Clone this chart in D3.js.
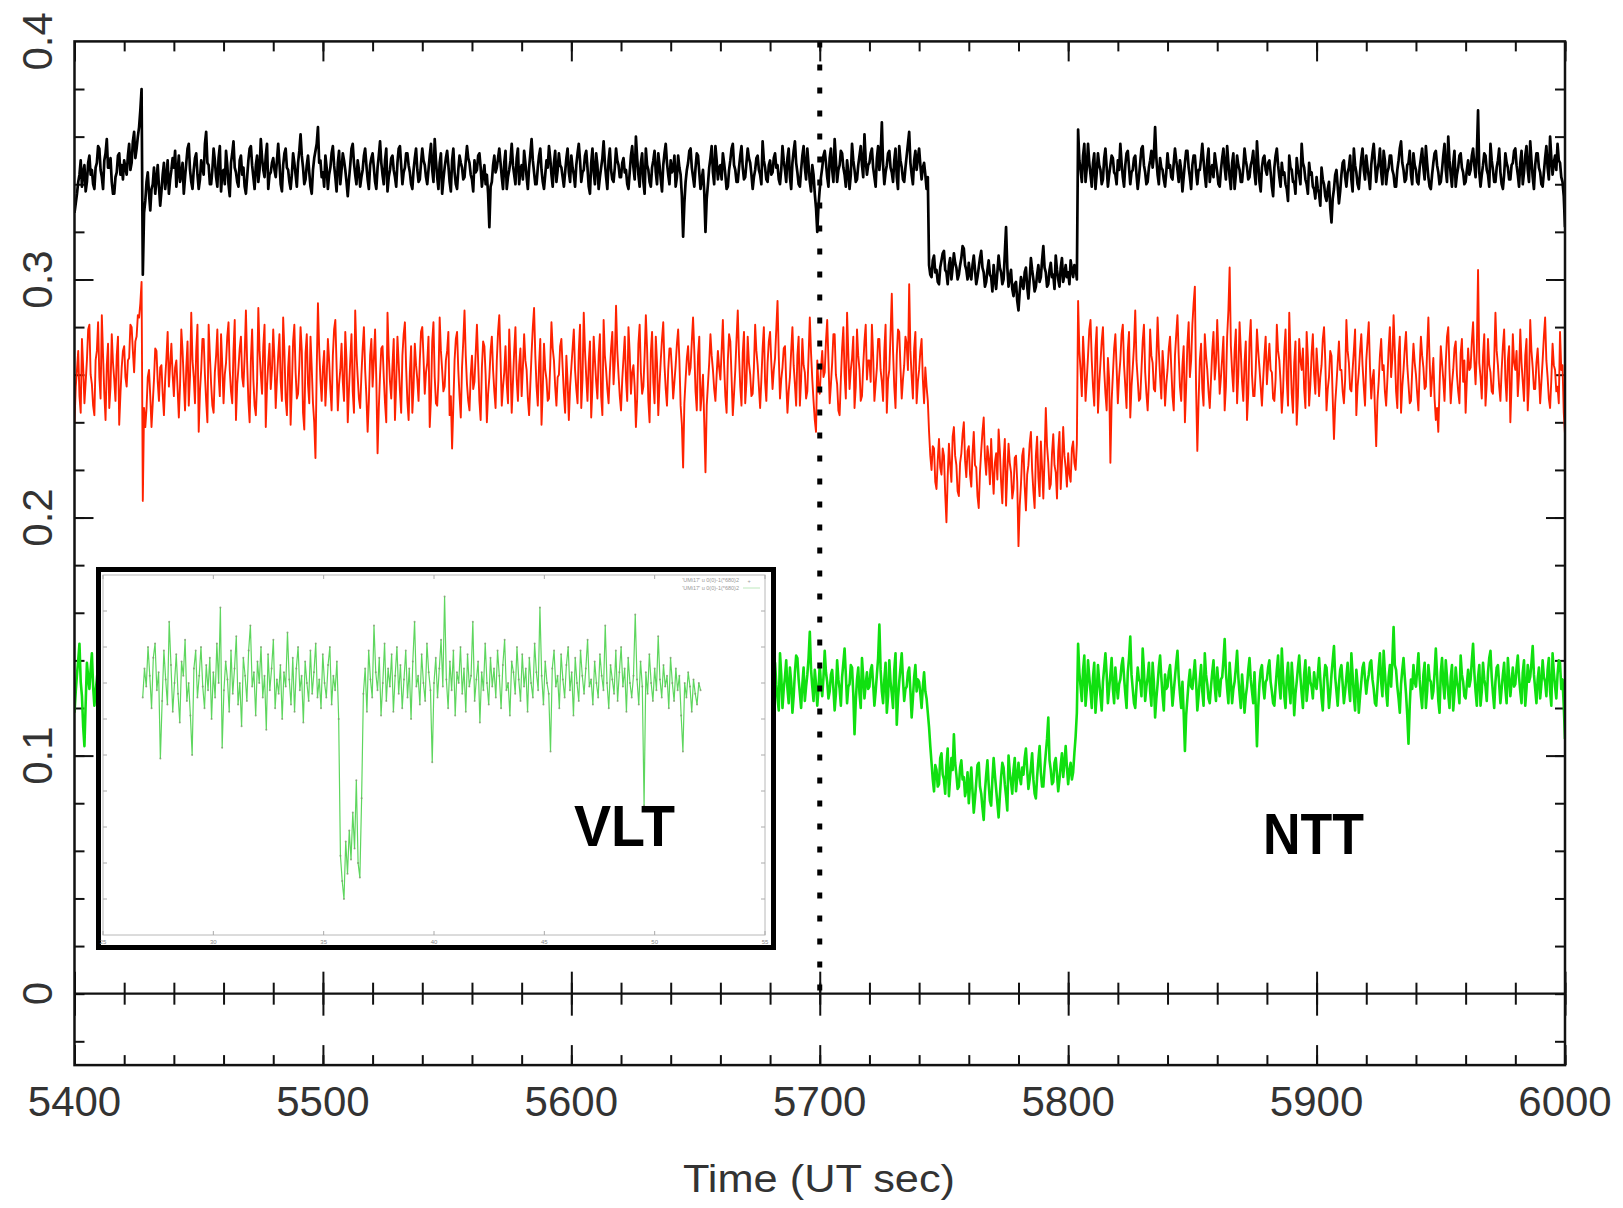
<!DOCTYPE html>
<html>
<head>
<meta charset="utf-8">
<script src="https://cdn.jsdelivr.net/npm/d3@7"></script>
<style>
  html, body { margin: 0; padding: 0; background: #fff; }
  svg { display: block; }
</style>
</head>
<body>
<svg id="chart" width="1623" height="1208"></svg>
<script>
// Light curves sampled every half second from 5400 s UT; fluxes stored in units of 1e-3.
const START_TIME = 5400;
const CADENCE = 0.5;

const fluxBlack = [
328,332,336,341,344,350,339,345,348,337,341,349,352,344,346,340,338,347,349,356,355,346,343,338,350,353,359,347,347,351,341,336,336,343,345,352,353,344,348,342,
350,347,344,352,357,346,349,358,362,351,355,360,364,371,380,302,328,333,341,345,336,329,338,340,347,336,342,348,339,331,337,344,349,338,343,350,336,342,346,351,
347,354,339,345,352,341,344,349,336,343,349,355,357,346,341,338,346,351,353,344,338,342,350,347,344,357,362,349,348,340,340,346,355,350,343,339,351,356,337,345,
346,340,354,348,340,335,349,353,358,347,345,341,339,350,352,344,347,339,336,343,350,355,356,348,343,338,348,352,341,346,359,351,346,343,352,357,338,344,345,349,
351,346,343,350,357,349,340,337,348,353,355,347,346,341,338,344,353,349,344,339,349,354,361,352,347,340,342,348,352,345,339,336,346,351,354,357,364,349,350,343,
345,339,352,347,338,344,347,353,356,348,343,337,349,354,340,346,353,350,346,341,335,342,348,355,357,349,344,340,350,346,339,343,346,352,355,348,342,338,348,351,
353,347,341,338,347,352,358,349,344,340,350,355,337,343,346,351,352,346,343,339,349,355,356,348,340,345,347,353,353,348,345,340,338,346,351,355,346,341,342,349,
355,350,348,343,340,346,352,357,346,341,359,350,343,338,349,353,336,342,347,351,354,348,341,337,350,355,345,340,338,346,352,349,347,342,343,350,356,351,349,344,
342,337,350,345,346,352,353,347,339,344,348,340,344,336,322,339,341,348,352,345,347,351,355,349,343,338,349,354,338,343,346,350,357,348,344,340,351,355,340,346,
348,342,354,349,343,338,347,353,359,350,345,340,340,347,352,355,346,341,338,344,350,347,356,351,344,339,349,354,341,346,353,348,347,343,339,345,351,355,345,341,
352,347,344,339,348,353,357,350,341,345,346,352,354,347,339,336,349,355,345,340,353,348,338,343,347,351,358,349,343,338,350,355,346,342,341,347,355,350,348,343,
343,349,351,345,346,340,338,345,352,356,347,342,360,351,344,339,349,353,341,336,355,348,346,341,339,347,350,354,345,340,353,348,342,337,348,353,357,349,344,340,
350,345,346,352,339,343,352,347,344,335,318,332,341,346,349,354,355,347,343,339,347,353,352,345,338,342,346,337,320,334,340,347,351,356,345,340,356,350,342,347,
348,342,353,349,344,338,339,346,350,355,357,348,346,341,341,347,352,356,347,342,343,349,355,351,349,344,338,343,346,351,352,346,344,340,358,350,347,342,341,348,
350,344,345,351,353,347,348,342,340,346,356,350,346,341,351,355,343,338,349,354,358,349,345,340,339,346,352,356,347,342,355,348,341,337,348,344,336,330,320,331,
338,343,347,352,354,349,343,339,351,355,346,341,359,350,341,346,348,354,353,347,344,339,350,345,338,344,357,350,346,341,342,348,352,356,348,343,361,350,344,348,
349,353,355,347,343,339,351,356,346,352,366,348,340,345,348,353,354,347,345,341,350,355,343,338,356,350,347,342,341,347,352,357,362,349,344,340,350,354,346,351,
355,348,342,347,349,344,338,343,306,302,301,308,310,303,304,299,298,305,308,311,312,304,303,298,306,309,300,305,311,307,305,300,302,306,309,314,313,306,304,300,
307,302,300,306,310,304,298,301,305,309,312,305,303,297,299,304,308,302,301,295,306,300,296,303,310,305,303,298,300,311,322,305,297,301,304,296,293,298,299,291,
287,295,301,298,296,303,305,297,292,300,309,304,300,295,297,302,306,299,301,308,314,305,303,297,298,304,307,301,302,296,310,304,300,297,305,309,299,302,306,301,
303,298,308,304,301,306,305,300,363,350,346,341,352,357,341,347,357,349,344,339,349,353,338,345,353,348,346,340,342,351,355,347,339,344,348,352,351,345,344,340,
350,346,357,349,343,339,348,353,354,347,340,345,346,351,352,344,338,343,349,355,356,348,345,340,341,347,350,354,347,352,364,351,344,340,351,347,346,342,339,345,
353,347,348,343,342,349,355,350,346,341,350,346,337,343,349,354,354,347,343,338,348,352,352,345,340,346,346,351,357,350,344,339,350,355,341,346,348,343,353,349,
345,340,339,346,351,355,347,342,356,349,343,338,349,353,338,344,352,348,346,341,341,347,355,350,347,342,343,348,350,354,345,340,358,349,341,337,347,351,352,346,
344,349,350,345,339,335,347,352,355,348,343,339,349,344,345,340,338,333,352,347,346,341,341,336,351,346,344,340,357,349,347,342,340,336,349,344,345,339,338,334,
343,338,336,331,347,342,340,335,333,338,341,330,324,334,338,344,346,339,332,337,344,349,350,343,339,345,347,352,342,337,355,348,345,340,338,345,351,355,346,342,
352,347,343,338,348,353,357,349,341,346,349,355,345,340,354,350,340,345,347,352,352,346,344,339,339,346,350,355,358,349,346,341,342,348,349,354,344,340,353,348,
346,341,340,347,351,355,347,342,356,349,343,339,338,344,349,353,354,348,345,340,341,346,352,357,346,341,360,350,344,339,349,354,339,344,347,352,353,347,345,340,
341,346,350,344,346,352,355,348,343,352,371,345,339,344,348,353,352,346,344,339,357,350,346,341,341,347,350,355,345,340,338,344,353,349,347,342,342,348,349,354,
355,348,344,339,349,354,340,345,352,356,346,341,358,350,343,338,348,353,353,347,345,340,339,345,351,356,347,342,360,351,344,349,352,346,357,350,349,343,341,335,
322
];

const fluxRed = [
240,255,262,270,251,244,275,263,248,257,266,279,281,260,256,247,243,266,270,282,259,250,285,268,252,241,264,273,246,255,277,265,258,249,268,276,239,252,263,270,
272,259,255,266,267,281,280,270,261,274,276,285,284,290,299,207,246,238,246,259,262,251,238,248,258,271,270,257,249,263,264,252,243,258,267,278,255,264,273,260,
251,263,266,254,242,256,279,270,257,245,263,274,247,259,286,266,259,248,270,281,236,253,262,275,275,260,249,240,281,268,256,247,244,261,268,279,260,251,277,264,
248,260,265,276,282,262,253,248,270,283,241,256,263,271,276,259,255,268,287,265,249,240,266,279,258,247,243,257,288,270,260,252,272,281,238,255,265,273,254,262,
279,266,246,258,268,277,257,249,284,270,250,243,263,272,239,255,274,281,261,250,252,264,280,270,244,237,269,277,256,248,276,263,248,240,225,262,290,271,258,249,
263,270,247,258,275,266,254,245,268,279,283,264,245,256,262,273,257,249,278,266,240,254,266,277,253,244,287,269,259,250,246,260,271,280,262,251,236,249,268,275,
255,266,279,258,227,246,260,271,272,259,248,240,286,268,257,250,264,275,241,256,276,265,253,244,268,277,282,263,249,241,261,272,244,255,273,264,258,249,266,278,
280,267,252,261,265,276,238,250,274,282,259,248,247,258,284,270,262,253,255,266,270,278,243,251,229,247,266,275,278,262,251,242,263,274,287,268,256,249,245,260,
268,254,257,269,281,265,249,241,263,274,272,260,240,252,259,270,276,262,253,246,266,278,285,267,247,255,261,272,256,248,279,264,244,257,270,280,258,249,264,271,
251,263,277,266,262,250,243,256,269,280,288,268,255,247,264,275,239,254,273,262,258,249,250,264,282,271,266,255,247,259,260,272,275,263,252,244,268,257,241,255,
263,271,279,262,254,248,270,281,246,258,286,270,259,249,265,274,242,255,276,266,257,250,268,277,251,243,283,268,262,254,248,261,271,278,256,266,289,270,260,251,
245,258,267,276,258,249,280,269,252,261,264,255,238,250,273,281,261,252,255,268,285,271,249,240,269,278,257,248,276,265,243,256,266,275,282,264,254,247,262,271,
271,262,250,257,264,273,279,266,247,239,221,248,258,267,272,260,263,274,284,270,253,245,268,276,245,252,260,240,219,247,256,265,277,268,262,254,249,260,270,263,
258,270,283,264,251,244,266,277,274,259,243,252,262,275,287,268,255,247,269,278,248,257,276,265,260,251,252,263,281,270,264,255,246,258,271,280,257,249,265,274,
278,265,254,262,267,279,291,268,250,258,263,271,272,257,244,253,259,270,280,264,256,247,268,276,247,258,275,264,261,250,253,268,284,269,258,249,241,236,266,255,
252,263,270,259,261,274,283,266,248,256,265,277,277,260,256,245,243,258,271,280,260,250,286,269,254,262,267,276,246,255,279,268,262,249,251,264,274,281,258,266,
266,257,281,268,249,256,263,275,275,262,257,249,270,281,244,258,262,277,294,270,255,246,268,279,278,263,250,258,264,276,273,262,298,270,259,250,271,278,248,257,
262,270,275,258,248,263,255,249,236,226,220,230,229,215,212,224,233,221,218,229,226,210,198,217,231,222,215,234,238,226,222,211,209,223,227,235,240,224,217,228,
230,218,213,227,236,222,221,209,204,219,228,236,242,225,218,230,225,214,233,220,210,223,227,216,237,228,215,206,224,233,205,219,231,223,219,208,212,225,226,215,
188,205,214,226,229,213,203,218,222,231,236,220,211,204,226,234,217,209,232,221,208,225,246,230,223,212,214,227,235,222,219,208,228,236,212,223,238,226,221,213,
227,218,215,229,232,223,220,231,291,270,262,251,276,265,249,258,268,279,283,266,255,247,271,280,244,256,265,274,280,262,252,245,267,258,223,249,260,271,277,263,
248,259,266,277,281,264,255,246,270,278,242,255,263,272,287,266,258,249,250,262,274,281,261,252,245,257,279,268,265,254,253,266,284,270,259,250,270,262,247,256,
262,271,276,263,251,245,268,277,285,268,255,249,264,272,240,255,273,282,259,266,281,290,297,254,228,249,266,273,254,247,277,268,262,253,246,258,270,278,258,265,
283,268,252,259,267,276,245,255,276,287,305,272,261,253,270,279,248,260,282,270,257,249,265,274,241,252,274,283,260,251,251,262,279,270,263,255,247,258,268,276,
256,265,273,262,261,250,249,258,281,270,266,257,244,253,270,279,258,247,286,268,252,244,265,274,239,251,275,266,262,271,254,246,278,267,247,256,269,277,260,252,
271,262,251,259,264,275,280,266,245,254,259,270,268,250,233,248,256,265,274,262,262,253,248,258,283,270,265,254,253,262,270,279,243,255,261,270,277,264,255,247,
266,274,282,263,250,258,262,245,230,249,257,268,275,262,264,253,247,258,271,280,259,267,285,270,253,246,268,276,244,255,262,271,278,264,256,248,249,262,273,265,
260,252,245,263,276,268,263,254,255,270,284,266,251,259,267,250,241,246,236,255,272,265,258,249,265,276,280,262,248,256,262,271,274,260,253,248,269,275,257,266,
244,258,271,262,263,274,282,266,256,270,304,265,259,250,268,277,247,256,275,264,261,253,252,266,286,270,264,255,249,262,272,279,258,249,266,272,240,256,277,265,
262,270,251,260,279,265,257,249,268,275,245,256,283,270,263,254,254,265,271,260,248,257,266,276,284,266,259,250,246,258,273,264,262,253,255,248,278,262,264,244,
235
];

const fluxGreen = [
118,127,134,140,147,131,125,112,104,122,139,133,128,136,143,129,121,127,132,138,137,124,115,126,129,138,146,133,124,118,133,140,119,125,141,132,127,120,135,129,
122,131,138,127,130,121,117,129,144,134,126,119,135,128,112,124,129,136,141,130,124,118,133,139,120,127,137,131,128,122,145,133,118,126,131,137,126,120,139,132,
131,125,119,130,142,133,127,138,134,122,113,126,129,137,146,131,123,117,136,129,128,135,118,127,140,132,125,119,133,139,121,128,143,134,130,124,116,127,135,131,
127,134,140,129,122,131,133,138,148,132,119,125,131,139,126,120,138,130,114,127,129,136,135,124,123,130,144,135,130,122,117,128,136,141,128,121,141,133,124,130,
134,127,120,131,139,132,128,122,116,129,143,135,125,119,132,138,137,128,121,126,130,137,147,132,124,119,135,141,118,126,129,134,140,131,126,120,133,137,115,127,
138,130,127,134,131,139,145,133,122,128,134,126,119,127,128,135,142,130,125,120,136,129,113,124,130,137,139,128,124,131,132,138,148,134,121,127,127,133,135,126,
120,128,133,138,141,130,126,121,129,136,117,125,137,131,131,124,123,133,144,134,128,122,135,129,116,124,130,137,138,129,125,131,142,133,119,126,133,138,127,122,
136,129,124,131,130,138,147,135,121,127,134,129,128,122,139,133,115,124,131,136,126,120,143,134,129,125,122,131,137,129,133,140,118,126,140,131,125,120,132,137,
129,135,141,132,123,128,135,140,118,126,130,136,145,133,127,121,133,138,120,127,138,131,126,120,131,139,149,134,124,130,136,128,114,123,129,135,142,133,128,122,
133,127,119,128,137,131,126,134,143,132,130,123,122,129,135,140,128,121,117,126,140,133,132,125,125,133,146,135,129,122,121,128,134,139,138,130,124,119,131,136,
127,135,144,133,120,126,132,138,136,129,125,121,139,131,116,124,130,137,134,128,123,130,147,136,128,122,135,139,119,127,131,136,141,132,126,120,133,138,122,129,
138,131,129,124,124,133,142,134,117,125,133,139,130,126,145,135,121,128,136,131,127,121,132,138,140,129,118,126,134,139,125,131,143,134,129,122,123,130,137,132,
126,133,135,128,131,125,119,127,144,136,128,122,137,130,122,129,133,140,148,134,124,119,130,136,116,125,139,133,127,121,134,138,121,128,141,135,129,124,132,137,
140,131,123,129,136,132,128,121,117,127,145,134,131,125,126,133,138,130,120,126,134,140,129,122,143,132,125,119,132,137,118,126,137,131,130,124,146,135,124,129,
131,124,127,135,139,130,124,119,143,134,120,128,133,140,128,122,137,131,118,125,135,142,141,132,126,120,130,137,123,129,134,141,152,136,129,123,136,130,121,128,
138,130,125,133,144,135,131,124,127,134,136,128,119,126,140,132,128,121,133,139,145,134,122,129,130,138,137,126,109,123,132,137,126,120,141,133,124,130,135,128,
129,136,138,130,121,127,134,141,155,136,127,122,132,139,118,125,140,131,126,120,136,143,113,124,131,137,143,132,123,128,129,135,137,127,116,124,133,138,127,132,
131,126,120,129,135,127,124,118,112,104,97,90,85,96,94,87,88,99,101,92,90,84,96,103,83,91,99,94,109,97,92,86,87,95,98,90,91,83,86,93,
80,88,95,85,76,82,89,96,97,87,84,78,73,85,92,98,88,81,79,90,99,92,86,80,74,83,91,97,95,88,83,77,100,93,89,84,94,99,85,91,
97,91,88,95,92,99,103,94,86,90,95,101,90,84,82,91,98,104,93,87,87,95,101,107,116,98,94,88,89,97,99,92,85,90,96,101,91,97,104,95,
88,94,97,90,93,101,108,118,147,135,129,123,136,142,121,128,140,133,127,120,133,139,118,126,138,131,125,119,131,137,143,134,122,128,134,141,128,122,137,130,
124,130,132,138,141,133,126,120,135,141,150,134,128,122,120,129,137,132,131,125,145,136,123,129,133,139,127,121,139,131,116,124,130,137,142,133,125,119,134,128,
129,135,138,130,121,127,133,139,144,133,126,120,131,118,102,117,124,131,136,129,128,134,140,131,119,125,132,138,127,121,143,134,130,124,122,129,135,140,129,123,
137,130,125,132,133,140,149,135,128,122,139,131,122,128,131,137,144,133,126,120,134,127,118,125,129,136,141,132,127,122,135,121,104,120,130,136,138,129,124,131,
132,137,140,131,127,122,121,129,136,142,130,124,145,134,125,120,133,139,128,122,139,131,117,126,131,137,142,133,126,120,134,140,123,129,137,131,129,124,135,130,
128,134,141,132,124,119,132,138,137,129,120,126,134,140,146,133,127,121,130,136,138,130,122,127,133,139,129,123,143,134,125,119,136,130,118,125,131,137,139,132,
126,131,134,139,140,132,128,122,121,129,137,143,131,125,144,135,127,121,133,138,129,140,154,138,136,129,124,118,130,136,141,133,126,117,105,121,132,128,138,131,
129,136,143,132,125,120,134,139,120,127,138,132,131,124,127,135,145,134,123,118,135,141,130,124,140,133,126,120,133,138,119,126,137,131,128,122,142,134,131,125,
124,130,136,129,132,140,147,135,127,121,133,138,121,127,139,132,129,123,135,141,144,133,126,120,131,137,138,130,122,128,134,139,128,122,141,133,125,131,137,129,
130,137,142,133,127,122,135,140,121,128,138,131,133,139,146,134,128,122,132,137,124,130,140,133,131,125,136,141,127,121,143,135,129,124,134,140,139,128,132,121,
107
];

// Comparison light curve shown in the inset panel (time in its own units).
const INSET_START = 26.8;
const INSET_STEP = 0.08;
const insetFlux = [
6.6,7.4,6.9,8.0,7.2,6.3,7.7,8.1,6.8,7.3,4.9,6.5,7.9,7.1,6.4,8.7,7.5,6.2,7.0,7.8,
6.7,5.9,7.6,7.2,8.2,6.5,7.0,6.1,5.0,7.4,7.9,6.6,7.2,8.0,6.9,6.3,7.5,6.8,7.7,6.0,
7.3,6.6,8.1,7.0,9.1,5.2,6.8,7.6,7.1,6.2,7.9,6.7,7.4,8.3,6.4,7.0,5.8,7.7,7.2,6.5,
7.9,8.6,6.9,7.3,6.1,7.6,7.0,8.0,6.6,7.2,5.7,7.8,6.8,7.4,8.2,6.3,7.1,6.7,7.5,6.0,
7.3,6.9,8.4,7.1,6.4,7.7,6.2,7.4,8.0,6.8,7.2,5.9,7.6,7.0,6.5,7.9,6.7,7.3,8.1,6.6,
7.1,6.3,7.8,7.0,6.6,7.5,8.0,6.4,7.2,6.8,7.6,6.0,2.2,1.5,1.0,2.6,1.7,2.9,2.1,3.4,
2.4,4.3,2.0,1.6,3.8,6.7,7.4,6.2,7.9,7.1,6.6,8.6,7.3,6.8,7.7,6.1,7.0,8.1,6.5,7.4,
6.9,7.8,6.2,7.2,8.0,6.7,7.5,6.3,7.1,7.9,6.6,7.4,6.0,7.6,8.7,6.9,7.2,6.4,7.8,7.0,
6.5,8.1,7.3,6.8,4.8,7.0,7.7,6.6,7.4,8.2,6.9,9.4,7.1,6.3,7.6,6.8,7.9,6.1,7.3,7.0,
8.0,6.7,7.4,6.2,7.8,6.9,7.2,8.7,6.5,7.1,7.6,5.9,7.3,6.8,8.1,7.0,6.4,7.7,6.9,7.4,
6.6,7.9,7.2,6.3,7.5,8.2,6.8,7.0,6.1,7.6,7.3,6.7,8.0,7.1,6.5,7.8,6.9,7.4,6.2,7.7,
7.0,6.6,8.1,7.3,6.8,9.1,7.2,6.4,7.6,7.0,6.7,5.1,7.4,7.9,6.9,7.2,6.3,7.8,7.1,6.6,
7.5,8.0,6.8,7.3,6.1,7.7,7.0,6.5,7.9,7.2,6.7,7.4,8.2,6.9,7.1,6.4,7.6,7.0,6.6,7.8,
7.2,6.8,8.6,7.0,6.3,7.5,7.1,6.7,7.9,6.5,7.3,8.0,6.9,7.4,6.2,7.7,7.0,6.6,7.2,8.9,
7.1,6.4,7.6,6.9,3.6,7.3,6.7,7.8,7.0,6.5,7.4,6.8,8.3,7.1,6.6,7.5,6.9,7.2,6.3,7.7,
7.0,6.5,7.4,6.8,7.2,6.1,5.1,7.0,6.6,7.3,6.9,6.2,7.1,6.7,6.4,7.0,6.8
];

const xTickLabels = [5400, 5500, 5600, 5700, 5800, 5900, 6000];
const yTickLabels = [0, 0.1, 0.2, 0.3, 0.4];
const insetXTickLabels = [25, 30, 35, 40, 45, 50, 55];
const insetLegend = ["'UMi17' u 0(0)-1(*680)2", "'UMi17' u 0(0)-1(*680)2"];
const markerTime = 5700;

// ---------------------------------------------------------------- layout
const svg = d3.select("#chart");
svg.append("rect").attr("width", 1623).attr("height", 1208).attr("fill", "#fff");

const x = d3.scaleLinear().domain([5400, 6000]).range([74.5, 1565]);
const y = d3.scaleLinear().domain([-0.03, 0.4]).range([1065.1, 41.4]);

const toSeries = arr => arr.map((v, i) => ({ t: START_TIME + i * CADENCE, f: v / 1000 }));
const series = [
  { data: toSeries(fluxBlack), color: "#000000", width: 2.7 },
  { data: toSeries(fluxRed),   color: "#ff2200", width: 1.9 },
  { data: toSeries(fluxGreen), color: "#10e010", width: 2.6 }
];

const [x0, x1] = x.range();
const yTop = y(0.4), yBot = y(-0.03);

svg.append("clipPath").attr("id", "plotClip")
  .append("rect").attr("x", x0).attr("y", yTop).attr("width", x1 - x0).attr("height", yBot - yTop);

// ---------------------------------------------------------------- ticks
const minorX = d3.range(5400, 6000.1, 20);
const majorX = xTickLabels;
const minorY = d3.range(-0.02, 0.4, 0.02).map(v => +v.toFixed(2));
const majorY = [0.1, 0.2, 0.3];

const axes = svg.append("g").attr("stroke", "#111").attr("stroke-width", 2);
function tickAxis(gen, values, size, transform) {
  const g = axes.append("g").attr("transform", transform)
    .call(gen.tickValues(values).tickSize(size).tickFormat(""));
  g.select(".domain").remove();
  g.selectAll(".tick line").attr("stroke", "#111").attr("stroke-width", 2);
}
// top edge: ticks pointing down
tickAxis(d3.axisBottom(x), minorX, 10, `translate(0,${yTop})`);
tickAxis(d3.axisBottom(x), majorX, 20, `translate(0,${yTop})`);
// bottom edge: ticks pointing up
tickAxis(d3.axisTop(x), minorX, 10, `translate(0,${yBot})`);
tickAxis(d3.axisTop(x), majorX, 20, `translate(0,${yBot})`);
// zero line ticks crossing both ways
tickAxis(d3.axisTop(x), minorX, 11, `translate(0,${y(0)})`);
tickAxis(d3.axisBottom(x), minorX, 11, `translate(0,${y(0)})`);
tickAxis(d3.axisTop(x), majorX, 22, `translate(0,${y(0)})`);
tickAxis(d3.axisBottom(x), majorX, 22, `translate(0,${y(0)})`);
// left edge: ticks pointing right
tickAxis(d3.axisRight(y), minorY, 10, `translate(${x0},0)`);
tickAxis(d3.axisRight(y), majorY, 19, `translate(${x0},0)`);
// right edge: ticks pointing left
tickAxis(d3.axisLeft(y), minorY, 10, `translate(${x1},0)`);
tickAxis(d3.axisLeft(y), majorY, 19, `translate(${x1},0)`);

// zero line
svg.append("line")
  .attr("x1", x0).attr("x2", x1).attr("y1", y(0)).attr("y2", y(0))
  .attr("stroke", "#111").attr("stroke-width", 2.2);

// ---------------------------------------------------------------- light curves
const line = d3.line().x(d => x(d.t)).y(d => y(d.f));
const curves = svg.append("g").attr("clip-path", "url(#plotClip)");
series.forEach(s => {
  curves.append("path")
    .datum(s.data)
    .attr("d", line)
    .attr("fill", "none")
    .attr("stroke", s.color)
    .attr("stroke-width", s.width)
    .attr("stroke-linejoin", "round");
});

// dotted marker at the reference time
svg.append("line")
  .attr("x1", x(markerTime)).attr("x2", x(markerTime))
  .attr("y1", yTop).attr("y2", y(0))
  .attr("stroke", "#000").attr("stroke-width", 5)
  .attr("stroke-dasharray", "6,17");

// frame
svg.append("rect")
  .attr("x", x0).attr("y", yTop).attr("width", x1 - x0).attr("height", yBot - yTop)
  .attr("fill", "none").attr("stroke", "#111").attr("stroke-width", 2.5);

// ---------------------------------------------------------------- tick labels
const labelFont = "'Liberation Sans', Arial, sans-serif";
svg.append("g").selectAll("text").data(xTickLabels).join("text")
  .attr("x", d => x(d)).attr("y", 1116)
  .attr("text-anchor", "middle")
  .attr("font-family", labelFont).attr("font-size", 42)
  .attr("fill", "#333")
  .text(d => d);

svg.append("g").selectAll("text").data(yTickLabels).join("text")
  .attr("transform", d => `translate(51.5,${y(d)}) rotate(-90)`)
  .attr("text-anchor", "middle")
  .attr("font-family", labelFont).attr("font-size", 42)
  .attr("fill", "#333")
  .text(d => String(d));

svg.append("text")
  .attr("x", 819).attr("y", 1192)
  .attr("text-anchor", "middle")
  .attr("font-family", labelFont).attr("font-size", 38)
  .attr("textLength", 272).attr("lengthAdjust", "spacingAndGlyphs")
  .attr("fill", "#333")
  .text("Time (UT sec)");

// ---------------------------------------------------------------- inset panel
const inset = svg.append("g");
inset.append("rect")
  .attr("x", 98.5).attr("y", 569.5).attr("width", 675).attr("height", 378)
  .attr("fill", "#fff").attr("stroke", "#000").attr("stroke-width", 5);

const ix = d3.scaleLinear().domain([25, 55]).range([103, 765]);
const iy = d3.scaleLinear().domain([0, 10]).range([935, 575]);

inset.append("rect")
  .attr("x", ix(25)).attr("y", iy(10)).attr("width", ix(55) - ix(25)).attr("height", iy(0) - iy(10))
  .attr("fill", "none").attr("stroke", "#b8b8b8").attr("stroke-width", 1);

const insetTicks = inset.append("g").attr("stroke", "#aaa").attr("stroke-width", 1);
insetTicks.selectAll(".bt").data(insetXTickLabels).join("line")
  .attr("x1", d => ix(d)).attr("x2", d => ix(d)).attr("y1", iy(0)).attr("y2", iy(0) - 4);
insetTicks.selectAll(".tt").data(insetXTickLabels).join("line")
  .attr("x1", d => ix(d)).attr("x2", d => ix(d)).attr("y1", iy(10)).attr("y2", iy(10) + 4);
const insetYTicks = d3.range(1, 10);
insetTicks.selectAll(".lt").data(insetYTicks).join("line")
  .attr("x1", ix(25)).attr("x2", ix(25) + 4).attr("y1", d => iy(d)).attr("y2", d => iy(d));
insetTicks.selectAll(".rt").data(insetYTicks).join("line")
  .attr("x1", ix(55)).attr("x2", ix(55) - 4).attr("y1", d => iy(d)).attr("y2", d => iy(d));

inset.append("g").selectAll("text").data(insetXTickLabels).join("text")
  .attr("x", d => ix(d)).attr("y", 944)
  .attr("text-anchor", "middle")
  .attr("font-family", labelFont).attr("font-size", 6)
  .attr("fill", "#888")
  .text(d => d);

const insetData = insetFlux.map((v, k) => ({ t: INSET_START + k * INSET_STEP, f: v }));
const insetLine = d3.line().x(d => ix(d.t)).y(d => iy(d.f));
inset.append("path")
  .datum(insetData)
  .attr("d", insetLine)
  .attr("fill", "none")
  .attr("stroke", "#5ed65e")
  .attr("stroke-width", 1.2);
inset.append("g").selectAll("circle").data(insetData).join("circle")
  .attr("cx", d => ix(d.t)).attr("cy", d => iy(d.f)).attr("r", 1)
  .attr("fill", "#7d9a6e").attr("opacity", 0.8);

// gnuplot-style key
const key = inset.append("g").attr("font-family", labelFont).attr("font-size", 5.5).attr("fill", "#999");
key.selectAll("text").data(insetLegend).join("text")
  .attr("x", 739).attr("y", (d, i) => 582 + i * 8)
  .attr("text-anchor", "end")
  .text(d => d);
key.append("text").attr("x", 749).attr("y", 583).attr("text-anchor", "middle").text("+");
key.append("line").attr("x1", 743).attr("x2", 760).attr("y1", 588).attr("y2", 588)
  .attr("stroke", "#bde8bd").attr("stroke-width", 1);

// ---------------------------------------------------------------- telescope labels
const bold = { family: "'Liberation Sans', Arial, sans-serif", size: 58 };
svg.append("text")
  .attr("x", 574).attr("y", 846)
  .attr("font-family", bold.family).attr("font-size", bold.size).attr("font-weight", "bold")
  .attr("textLength", 101).attr("lengthAdjust", "spacingAndGlyphs")
  .text("VLT");
svg.append("text")
  .attr("x", 1263).attr("y", 854)
  .attr("font-family", bold.family).attr("font-size", bold.size).attr("font-weight", "bold")
  .attr("textLength", 101).attr("lengthAdjust", "spacingAndGlyphs")
  .text("NTT");
</script>
</body>
</html>
